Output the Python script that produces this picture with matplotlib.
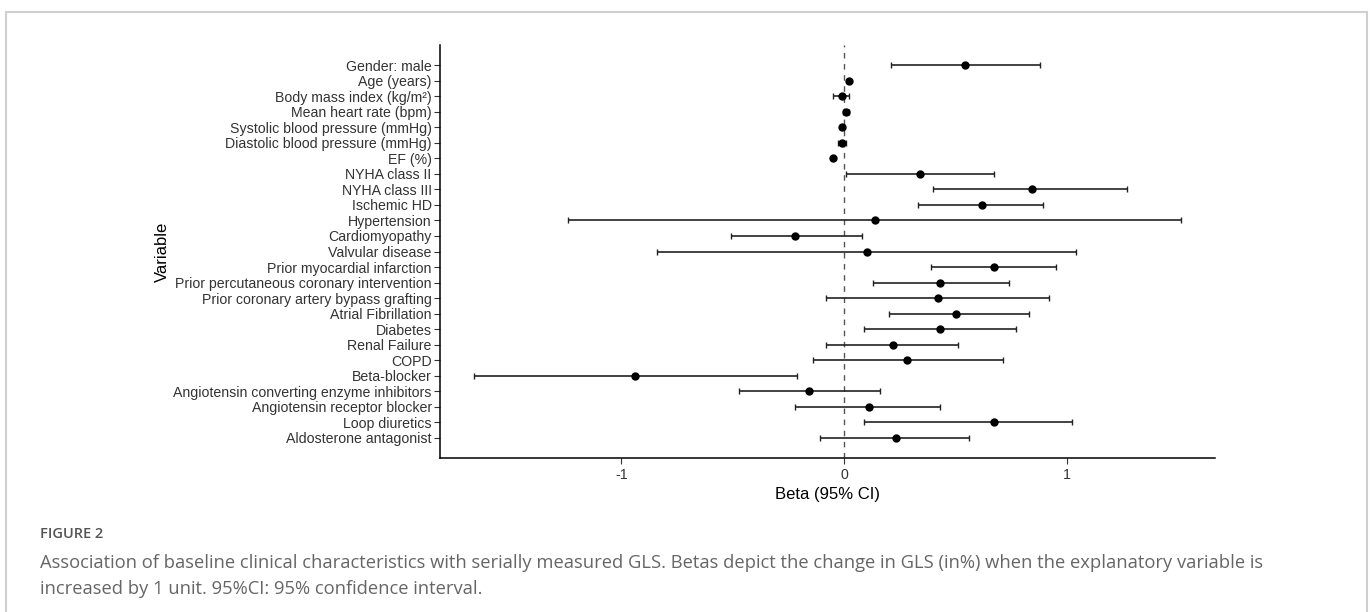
import numpy as np
import matplotlib.pyplot as plt
from matplotlib.patches import Rectangle

# Datos del gráfico (de arriba hacia abajo)
variables = [
    "Gender: male", "Age (years)", "Body mass index (kg/m²)", "Mean heart rate (bpm)",
    "Systolic blood pressure (mmHg)", "Diastolic blood pressure (mmHg)", "EF (%)",
    "NYHA class II", "NYHA class III", "Ischemic HD", "Hypertension", "Cardiomyopathy",
    "Valvular disease", "Prior myocardial infarction",
    "Prior percutaneous coronary intervention", "Prior coronary artery bypass grafting",
    "Atrial Fibrillation", "Diabetes", "Renal Failure", "COPD", "Beta-blocker",
    "Angiotensin converting enzyme inhibitors", "Angiotensin receptor blocker",
    "Loop diuretics", "Aldosterone antagonist",
]
beta = [0.54, 0.02, -0.01, 0.01, -0.01, -0.01, -0.05, 0.34, 0.84, 0.62, 0.14, -0.22,
        0.10, 0.67, 0.43, 0.42, 0.50, 0.43, 0.22, 0.28, -0.94, -0.16, 0.11, 0.67, 0.23]
ci_low = [0.21, 0.015, -0.05, -0.005, -0.015, -0.03, -0.055, 0.01, 0.40, 0.33, -1.24, -0.51,
          -0.84, 0.39, 0.13, -0.08, 0.20, 0.09, -0.08, -0.14, -1.66, -0.47, -0.22, 0.09, -0.11]
ci_high = [0.88, 0.025, 0.02, 0.02, -0.005, 0.01, -0.045, 0.67, 1.27, 0.89, 1.51, 0.08,
           1.04, 0.95, 0.74, 0.92, 0.83, 0.77, 0.51, 0.71, -0.21, 0.16, 0.43, 1.02, 0.56]

beta = np.array(beta)
ci_low = np.array(ci_low)
ci_high = np.array(ci_high)
y = np.arange(len(variables))[::-1] + 1

fig = plt.figure(figsize=(13.7, 6.12), dpi=100)
plt.rcParams['font.family'] = ['Liberation Sans', 'DejaVu Sans']

# Marco gris alrededor de la figura
fig.patches.append(Rectangle((6 / 1370, -0.05), 1360.5 / 1370, 1.05 - 12 / 612,
                             transform=fig.transFigure, fill=False,
                             edgecolor='#cfcfcf', linewidth=1.5))

ax = fig.add_axes([440 / 1370, 1 - 458 / 612, 775 / 1370, 413 / 612])

ax.axvline(0, color='#555555', linestyle=(0, (4, 4)), linewidth=1)
ax.errorbar(beta, y, xerr=[beta - ci_low, ci_high - beta], fmt='o', color='black',
            ecolor='#222222', elinewidth=1.2, capsize=2, capthick=1, markersize=5)

ax.set_xlim(-1.813, 1.663)
ax.set_ylim(-0.29, 26.29)
ax.set_xticks([-1, 0, 1])
ax.set_xticklabels(['-1', '0', '1'])
ax.set_yticks(y)
ax.set_yticklabels(variables)
ax.tick_params(axis='both', labelsize=10.2, colors='#333333', length=4, width=0.8)
ax.tick_params(axis='x', pad=3)
ax.tick_params(axis='y', pad=2)

for side in ['top', 'right']:
    ax.spines[side].set_visible(False)
for side in ['left', 'bottom']:
    ax.spines[side].set_linewidth(1.1)
    ax.spines[side].set_color('black')

ax.set_xlabel('Beta (95% CI)', fontsize=12, color='black', labelpad=4)
ax.set_ylabel('Variable', fontsize=12, color='black', labelpad=4)
ax.yaxis.set_label_coords(-0.348, 0.5)

# Pie de figura
fig.text(40 / 1370, 1 - 534 / 612, 'FIGURE 2', fontsize=10.5, color='#555555',
         family='Open Sans', weight='semibold', va='center')
fig.text(40 / 1370, 1 - 563 / 612,
         'Association of baseline clinical characteristics with serially measured GLS. '
         'Betas depict the change in GLS (in%) when the explanatory variable is',
         fontsize=13.2, color='#666666', family='Open Sans', va='center')
fig.text(40 / 1370, 1 - 589 / 612, 'increased by 1 unit. 95%CI: 95% confidence interval.',
         fontsize=13.2, color='#666666', family='Open Sans', va='center')

fig.savefig('out.png', dpi=100)
